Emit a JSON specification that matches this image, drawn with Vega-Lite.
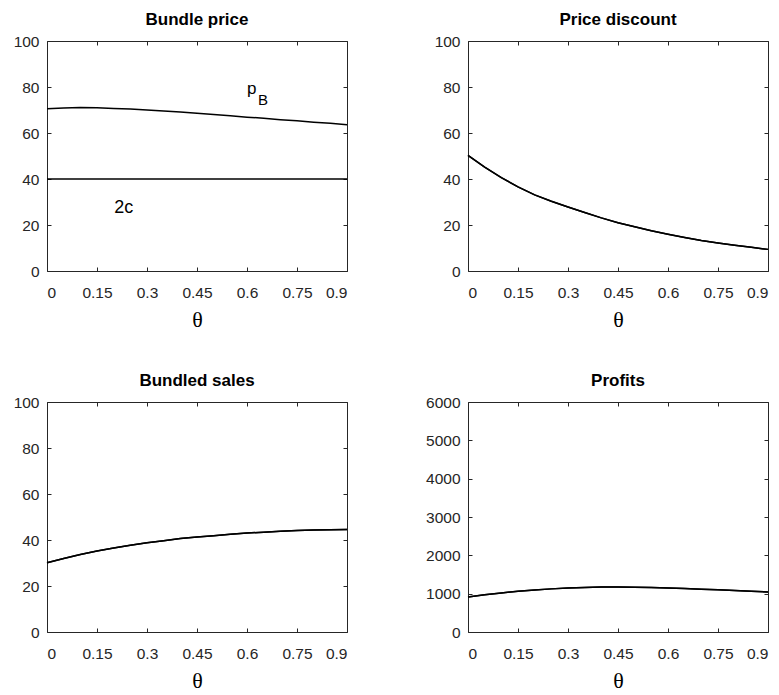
{
  "$schema": "https://vega.github.io/schema/vega-lite/v6.json",
  "background": "white",
  "padding": {"left": 12, "top": 10, "right": 5, "bottom": 5},
  "datasets": {
    "pb": [
      {"t": 0, "v": 70.5}, {"t": 0.05, "v": 70.9}, {"t": 0.1, "v": 71.1}, {"t": 0.15, "v": 71.0},
      {"t": 0.2, "v": 70.7}, {"t": 0.25, "v": 70.4}, {"t": 0.3, "v": 70.0}, {"t": 0.35, "v": 69.6},
      {"t": 0.4, "v": 69.1}, {"t": 0.45, "v": 68.6}, {"t": 0.5, "v": 68.0}, {"t": 0.55, "v": 67.5},
      {"t": 0.6, "v": 66.9}, {"t": 0.65, "v": 66.4}, {"t": 0.7, "v": 65.8}, {"t": 0.75, "v": 65.3},
      {"t": 0.8, "v": 64.7}, {"t": 0.85, "v": 64.2}, {"t": 0.9, "v": 63.6}
    ],
    "c2": [{"t": 0, "v": 40}, {"t": 0.9, "v": 40}],
    "labs": [
      {"t": 0.23, "v": 27.5, "s": "2c", "size": 18},
      {"t": 0.614, "v": 79, "s": "p", "size": 17},
      {"t": 0.648, "v": 74.5, "s": "B", "size": 15}
    ],
    "disc": [
      {"t": 0, "v": 50.3}, {"t": 0.05, "v": 45.2}, {"t": 0.1, "v": 40.6}, {"t": 0.15, "v": 36.6},
      {"t": 0.2, "v": 33.1}, {"t": 0.25, "v": 30.3}, {"t": 0.3, "v": 27.8}, {"t": 0.35, "v": 25.4},
      {"t": 0.4, "v": 23.1}, {"t": 0.45, "v": 21.0}, {"t": 0.5, "v": 19.2}, {"t": 0.55, "v": 17.5},
      {"t": 0.6, "v": 16.0}, {"t": 0.65, "v": 14.6}, {"t": 0.7, "v": 13.3}, {"t": 0.75, "v": 12.2},
      {"t": 0.8, "v": 11.2}, {"t": 0.85, "v": 10.3}, {"t": 0.9, "v": 9.4}
    ],
    "sales": [
      {"t": 0, "v": 30.1}, {"t": 0.05, "v": 32.0}, {"t": 0.1, "v": 33.7}, {"t": 0.15, "v": 35.2},
      {"t": 0.2, "v": 36.5}, {"t": 0.25, "v": 37.7}, {"t": 0.3, "v": 38.8}, {"t": 0.35, "v": 39.7},
      {"t": 0.4, "v": 40.6}, {"t": 0.45, "v": 41.3}, {"t": 0.5, "v": 41.9}, {"t": 0.55, "v": 42.5},
      {"t": 0.6, "v": 43.0}, {"t": 0.65, "v": 43.4}, {"t": 0.7, "v": 43.8}, {"t": 0.75, "v": 44.1},
      {"t": 0.8, "v": 44.3}, {"t": 0.85, "v": 44.5}, {"t": 0.9, "v": 44.6}
    ],
    "profit": [
      {"t": 0, "v": 913}, {"t": 0.05, "v": 970}, {"t": 0.1, "v": 1020}, {"t": 0.15, "v": 1060},
      {"t": 0.2, "v": 1095}, {"t": 0.25, "v": 1125}, {"t": 0.3, "v": 1148}, {"t": 0.35, "v": 1163},
      {"t": 0.4, "v": 1172}, {"t": 0.45, "v": 1174}, {"t": 0.5, "v": 1170}, {"t": 0.55, "v": 1161},
      {"t": 0.6, "v": 1148}, {"t": 0.65, "v": 1133}, {"t": 0.7, "v": 1118}, {"t": 0.75, "v": 1104},
      {"t": 0.8, "v": 1084}, {"t": 0.85, "v": 1064}, {"t": 0.9, "v": 1043}
    ]
  },
  "columns": 2,
  "spacing": {"row": 131, "column": 121},
  "bounds": "flush",
  "concat": [
    {
      "width": 300, "height": 230,
      "title": "Bundle price",
      "resolve": {"axis": {"x": "independent", "y": "independent"}},
      "layer": [
        {
          "data": {"name": "pb"},
          "mark": {"type": "line", "color": "black", "strokeWidth": 1.5},
          "encoding": {
            "x": {"field": "t", "type": "quantitative", "scale": {"domain": [0, 0.9], "nice": false}, "axis": {"orient": "bottom", "values": [0, 0.15, 0.3, 0.45, 0.6, 0.75, 0.9], "format": ".2~f", "title": "θ"}},
            "y": {"field": "v", "type": "quantitative", "scale": {"domain": [0, 100], "nice": false}, "axis": {"orient": "left", "values": [0, 20, 40, 60, 80, 100], "format": "d", "title": null}}
          }
        },
        {
          "data": {"name": "c2"},
          "mark": {"type": "line", "color": "black", "strokeWidth": 1.5},
          "encoding": {
            "x": {"field": "t", "type": "quantitative", "axis": {"orient": "top", "values": [0, 0.15, 0.3, 0.45, 0.6, 0.75, 0.9], "labels": false, "title": null}},
            "y": {"field": "v", "type": "quantitative", "axis": {"orient": "right", "values": [0, 20, 40, 60, 80, 100], "labels": false, "title": null}}
          }
        },
        {
          "data": {"name": "labs"},
          "mark": {"type": "text", "font": "Liberation Sans", "color": "black", "align": "center", "baseline": "middle"},
          "encoding": {
            "x": {"field": "t", "type": "quantitative", "axis": null},
            "y": {"field": "v", "type": "quantitative", "axis": null},
            "text": {"field": "s"},
            "size": {"field": "size", "type": "quantitative", "scale": null}
          }
        }
      ]
    },
    {
      "width": 300, "height": 230,
      "title": "Price discount",
      "data": {"name": "disc"},
      "resolve": {"axis": {"x": "independent", "y": "independent"}},
      "layer": [
        {
          "mark": {"type": "line", "color": "black", "strokeWidth": 1.5},
          "encoding": {
            "x": {"field": "t", "type": "quantitative", "scale": {"domain": [0, 0.9], "nice": false}, "axis": {"orient": "bottom", "values": [0, 0.15, 0.3, 0.45, 0.6, 0.75, 0.9], "format": ".2~f", "title": "θ"}},
            "y": {"field": "v", "type": "quantitative", "scale": {"domain": [0, 100], "nice": false}, "axis": {"orient": "left", "values": [0, 20, 40, 60, 80, 100], "format": "d", "title": null}}
          }
        },
        {
          "mark": {"type": "line", "color": "black", "strokeWidth": 1.5},
          "encoding": {
            "x": {"field": "t", "type": "quantitative", "axis": {"orient": "top", "values": [0, 0.15, 0.3, 0.45, 0.6, 0.75, 0.9], "labels": false, "title": null}},
            "y": {"field": "v", "type": "quantitative", "axis": {"orient": "right", "values": [0, 20, 40, 60, 80, 100], "labels": false, "title": null}}
          }
        }
      ]
    },
    {
      "width": 300, "height": 230,
      "title": "Bundled sales",
      "data": {"name": "sales"},
      "resolve": {"axis": {"x": "independent", "y": "independent"}},
      "layer": [
        {
          "mark": {"type": "line", "color": "black", "strokeWidth": 1.5},
          "encoding": {
            "x": {"field": "t", "type": "quantitative", "scale": {"domain": [0, 0.9], "nice": false}, "axis": {"orient": "bottom", "values": [0, 0.15, 0.3, 0.45, 0.6, 0.75, 0.9], "format": ".2~f", "title": "θ"}},
            "y": {"field": "v", "type": "quantitative", "scale": {"domain": [0, 100], "nice": false}, "axis": {"orient": "left", "values": [0, 20, 40, 60, 80, 100], "format": "d", "title": null}}
          }
        },
        {
          "mark": {"type": "line", "color": "black", "strokeWidth": 1.5},
          "encoding": {
            "x": {"field": "t", "type": "quantitative", "axis": {"orient": "top", "values": [0, 0.15, 0.3, 0.45, 0.6, 0.75, 0.9], "labels": false, "title": null}},
            "y": {"field": "v", "type": "quantitative", "axis": {"orient": "right", "values": [0, 20, 40, 60, 80, 100], "labels": false, "title": null}}
          }
        }
      ]
    },
    {
      "width": 300, "height": 230,
      "title": "Profits",
      "data": {"name": "profit"},
      "resolve": {"axis": {"x": "independent", "y": "independent"}},
      "layer": [
        {
          "mark": {"type": "line", "color": "black", "strokeWidth": 1.5},
          "encoding": {
            "x": {"field": "t", "type": "quantitative", "scale": {"domain": [0, 0.9], "nice": false}, "axis": {"orient": "bottom", "values": [0, 0.15, 0.3, 0.45, 0.6, 0.75, 0.9], "format": ".2~f", "title": "θ"}},
            "y": {"field": "v", "type": "quantitative", "scale": {"domain": [0, 6000], "nice": false}, "axis": {"orient": "left", "values": [0, 1000, 2000, 3000, 4000, 5000, 6000], "format": "d", "title": null}}
          }
        },
        {
          "mark": {"type": "line", "color": "black", "strokeWidth": 1.5},
          "encoding": {
            "x": {"field": "t", "type": "quantitative", "axis": {"orient": "top", "values": [0, 0.15, 0.3, 0.45, 0.6, 0.75, 0.9], "labels": false, "title": null}},
            "y": {"field": "v", "type": "quantitative", "axis": {"orient": "right", "values": [0, 1000, 2000, 3000, 4000, 5000, 6000], "labels": false, "title": null}}
          }
        }
      ]
    }
  ],
  "config": {
    "view": {"stroke": "#262626", "strokeWidth": 1},
    "title": {"font": "Liberation Sans", "fontSize": 17, "fontWeight": "bold", "color": "black", "offset": 5},
    "axis": {
      "domain": false,
      "grid": false,
      "ticks": true,
      "tickSize": -4,
      "tickColor": "#262626",
      "labelFont": "Liberation Sans",
      "labelFontSize": 15.5,
      "labelFontWeight": "normal",
      "labelColor": "#262626",
      "titleFont": "Liberation Serif",
      "titleFontSize": 22,
      "titleFontWeight": "normal",
      "titleColor": "black"
    },
    "axisX": {"labelPadding": 18, "titlePadding": 9},
    "axisY": {"labelPadding": 12}
  }
}
